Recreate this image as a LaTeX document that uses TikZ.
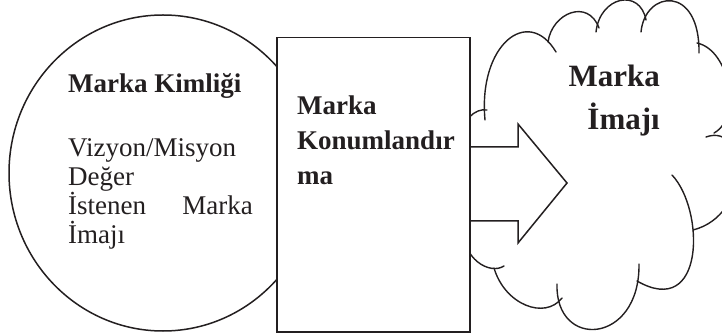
\documentclass[tikz,border=0pt]{standalone}
\usepackage{fontspec}
\setmainfont{Liberation Serif}
\usetikzlibrary{shapes.geometric}
\definecolor{ink}{HTML}{231F20}
\begin{document}
\begin{tikzpicture}[x=1pt,y=-1pt,
  outline/.style={draw=ink, line width=1.5pt},
  lobe/.style={draw=ink, line width=1.4pt, line cap=round},
  bodytext/.style={anchor=base west, inner sep=0pt, text=ink, font=\fontsize{27}{31}\selectfont},
  headtext/.style={bodytext, font=\fontsize{27}{31}\selectfont\bfseries},
  cloudtext/.style={anchor=base east, inner sep=0pt, text=ink, font=\fontsize{31}{36}\selectfont\bfseries}]
\useasboundingbox (0,0) rectangle (722,336);

% brand identity: large ellipse on the left
\node[ellipse, outline, minimum width=308pt, minimum height=316pt, inner sep=0pt] (identity) at (163,173) {};

% brand image: cloud built from separate lobes
\draw[lobe] (460,140) .. controls (462,120) and (475,108) .. (487,110);
\draw[lobe] (485,120) .. controls (478,45) and (528,5) .. (556,52);
\draw[lobe] (548,42) .. controls (552,13) and (588,-2) .. (599,28);
\draw[lobe] (596,32) .. controls (600,-4) and (640,-12) .. (646,20);
\draw[lobe] (641,32) .. controls (645,-10) and (700,-16) .. (699,53);
\draw[lobe] (697,43) .. controls (730,50) and (742,118) .. (714,133);
\draw[lobe] (706,137) .. controls (748,122) and (752,215) .. (693,230);
\draw[lobe] (672,175) .. controls (705,210) and (705,320) .. (637,281);
\draw[lobe] (639,264) .. controls (640,345) and (555,350) .. (557,284);
\draw[lobe] (562,298) .. controls (545,320) and (505,305) .. (494,268);
\draw[lobe] (462,225) .. controls (462,260) and (490,275) .. (504,266);

% block arrow from positioning into the image cloud
\coordinate (shaftTop) at (455,147);
\coordinate (shaftBot) at (455,221);
\coordinate (tip) at (567,183);
\draw[outline, fill=white, line join=miter]
  (shaftTop) -- (518,147) -- (518,124) -- (tip) -- (518,243) -- (518,221) -- (shaftBot) -- cycle;

% brand positioning: rectangle in the middle
\node[outline, fill=white, minimum width=193pt, minimum height=294pt, inner sep=0pt, anchor=north west] (positioning) at (276,37) {};

% texts of the identity ellipse
\node[headtext] (idTitle) at (68,93) {Marka Kimliği};
\node[bodytext] (idLineA) at (68,157) {Vizyon/Misyon};
\node[bodytext] (idLineB) at (68,186) {Değer};
\node[bodytext] (idLineC) at (68,215) {İstenen};
\node[bodytext, anchor=base east] (idLineCb) at (253,215) {Marka};
\node[bodytext] (idLineD) at (68,244) {İmajı};

% texts of the positioning rectangle
\node[headtext] (posA) at (297,115) {Marka};
\node[headtext] (posB) at (297,150) {Konumlandır};
\node[headtext] (posC) at (297,185) {ma};

% texts of the image cloud
\node[cloudtext] (imgA) at (660,87) {Marka};
\node[cloudtext] (imgB) at (660,130) {İmajı};
\end{tikzpicture}
\end{document}
